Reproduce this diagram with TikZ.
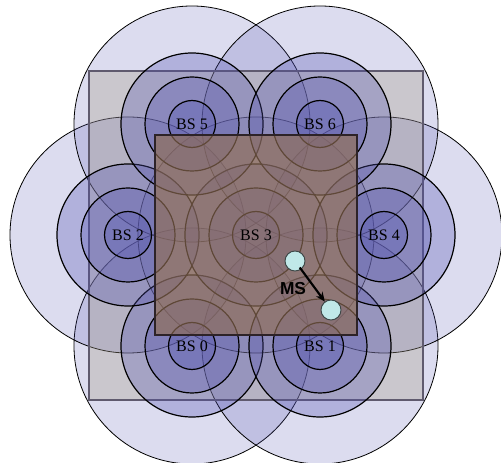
\documentclass[tikz,border=0pt]{standalone}
\usepackage{fontspec}
\setmainfont{Liberation Serif}
\setsansfont{Liberation Sans}
\usetikzlibrary{arrows.meta}

\definecolor{cellblue}{RGB}{80,80,175}
\definecolor{outertan}{RGB}{165,155,135}
\definecolor{outeredge}{RGB}{95,90,110}
\definecolor{innerbrown}{RGB}{145,110,85}
\definecolor{inneredge}{RGB}{45,35,40}
\definecolor{msfill}{RGB}{192,232,232}
\definecolor{msedge}{RGB}{60,70,70}

\tikzset{
  ring/.style={fill=cellblue, fill opacity=0.3, draw=black, line width=0.9pt},
  farring/.style={ring, fill opacity=0.2, line width=0.6pt},
  outerarea/.style={fill=outertan, fill opacity=0.33, draw=outeredge, line width=0.8pt},
  innerarea/.style={fill=innerbrown, fill opacity=0.66, draw=inneredge, line width=0.9pt},
  bslabel/.style={font=\fontsize{12pt}{14pt}\selectfont, text=black, inner sep=0pt},
  mobile/.style={circle, fill=msfill, draw=msedge, line width=0.7pt,
                 minimum size=15pt, inner sep=0pt},
  movearrow/.style={line width=1.6pt, -{Stealth[length=7pt,width=6pt]}, shorten <=6pt}
}

\begin{document}
\begin{tikzpicture}[x=0.75pt, y=-0.75pt]
  \useasboundingbox (0,0) rectangle (501,463);

  % base station sites on a hexagonal layout
  \coordinate (c0) at (192,346);
  \coordinate (c1) at (320,346);
  \coordinate (c2) at (128,235);
  \coordinate (c3) at (256,235);
  \coordinate (c4) at (384,235);
  \coordinate (c5) at (192,124);
  \coordinate (c6) at (320,124);

  % widest coverage ring of every site
  \foreach \i in {0,...,6}
    \draw[farring] (c\i) circle[radius=118];

  % outer service area
  \draw[outerarea] (89,71) rectangle (423,400);

  % nested coverage rings
  \foreach \i in {0,...,6}{
    \draw[ring] (c\i) circle[radius=71];
    \draw[ring] (c\i) circle[radius=47];
    \draw[ring] (c\i) circle[radius=23.5];
  }

  % inner service area around the central site
  \draw[innerarea] (155,135) rectangle (357,335);

  % site labels
  \foreach \i in {0,...,6}
    \node[bslabel] (bs\i) at (c\i) {BS \i};

  % mobile station moving between two positions
  \node[mobile] (ms1) at (295,261) {};
  \node[mobile] (ms2) at (331,310) {};
  \draw[movearrow] (ms1.center) -- (ms2);
  \node[font=\sffamily\bfseries\fontsize{13pt}{15pt}\selectfont, inner sep=0pt] (mslabel) at (293,289) {MS};
\end{tikzpicture}
\end{document}
